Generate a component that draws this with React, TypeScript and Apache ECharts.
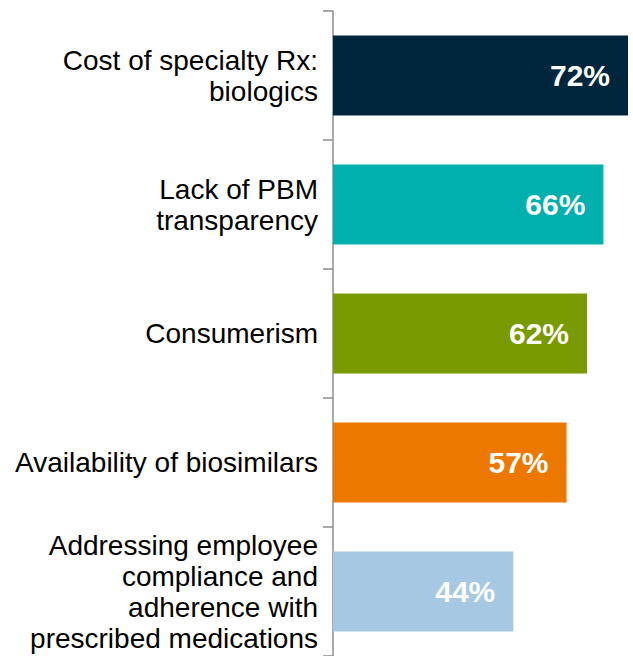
import React, { useEffect, useRef } from "react";
import * as echarts from "echarts";

const categories = [
  "Cost of specialty Rx:\nbiologics",
  "Lack of PBM\ntransparency",
  "Consumerism",
  "Availability of biosimilars",
  "Addressing employee\ncompliance and\nadherence with\nprescribed medications",
];
const values = [72, 66, 62, 57, 44];
const colors = ["#00263E", "#00B0AE", "#7A9A01", "#ED7800", "#A6C8E2"];

export default function App() {
  const ref = useRef<HTMLDivElement>(null);
  useEffect(() => {
    if (!ref.current) return;
    const chart = echarts.init(ref.current, null, { renderer: "svg" });
    chart.setOption({
      animation: false,
      grid: { left: 333, right: 5, top: 11, bottom: 0, containLabel: false },
      xAxis: { type: "value", min: 0, max: 72, show: false },
      yAxis: {
        type: "category",
        inverse: true,
        data: categories,
        axisLine: { show: true, lineStyle: { color: "#8C8C8C", width: 1.5 } },
        axisTick: { show: true, length: 10, lineStyle: { color: "#8C8C8C", width: 1.5 } },
        axisLabel: {
          margin: 15,
          color: "#000000",
          fontFamily: "Liberation Sans, Arial, sans-serif",
          fontSize: 28,
          lineHeight: 31,
          align: "right",
        },
      },
      series: [
        {
          type: "bar",
          data: values.map((v, i) => ({ value: v, itemStyle: { color: colors[i] } })),
          barWidth: 80,
          label: {
            show: true,
            position: "insideRight",
            distance: 18,
            formatter: "{c}%",
            color: "#FFFFFF",
            fontWeight: "bold",
            fontFamily: "Liberation Sans, Arial, sans-serif",
            fontSize: 30,
          },
        },
      ],
    });
    return () => chart.dispose();
  }, []);
  return (
    <div
      ref={ref}
      style={{ position: "absolute", left: 0, top: 0, width: 633, height: 656 }}
    />
  );
}
